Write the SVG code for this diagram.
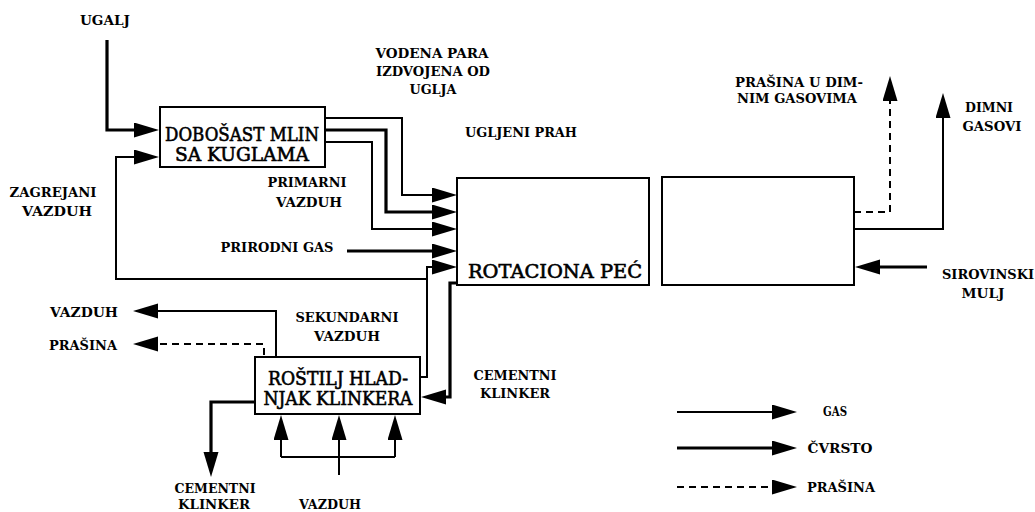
<svg xmlns="http://www.w3.org/2000/svg" width="1035" height="512" viewBox="0 0 1035 512">
<style>
.bg{fill:#fff}
.box{fill:#fff;stroke:#000;stroke-width:2}
.bt{font-family:"DejaVu Serif","Liberation Serif",serif;font-size:18px;fill:#000;stroke:#000;stroke-width:0.6;text-anchor:middle}
.lb{font-family:"DejaVu Serif","Liberation Serif",serif;font-weight:bold;font-size:13px;fill:#000;text-anchor:middle}
.gas{fill:none;stroke:#000;stroke-width:2}
.sol{fill:none;stroke:#000;stroke-width:3.2}
.dust{fill:none;stroke:#000;stroke-width:2;stroke-dasharray:7 5}
</style>
<defs>
<marker id="ah" markerUnits="userSpaceOnUse" markerWidth="28" markerHeight="18" refX="1" refY="7.5" orient="auto" viewBox="0 0 28 18">
<path d="M0,0 L25,7.5 L0,15 z" fill="#000"/>
</marker>
</defs>
<rect class="bg" x="0" y="0" width="1035" height="512"/>

<g id="connectors">
<path class="sol" d="M107,40 V130 H135" marker-end="url(#ah)"/>
<path class="gas" d="M427,279 H116 V157 H135" marker-end="url(#ah)"/>
<path class="gas" d="M325,118 H402 V195 H433" marker-end="url(#ah)"/>
<path class="sol" d="M325,130 H386 V212 H433" marker-end="url(#ah)"/>
<path class="gas" d="M325,142 H372 V229 H433" marker-end="url(#ah)"/>
<path class="sol" d="M347,251 H433" marker-end="url(#ah)"/>
<path class="gas" d="M420,377 H427 V267 H433" marker-end="url(#ah)"/>
<path class="sol" d="M458,283 H450 V397 H445" marker-end="url(#ah)"/>
<path class="dust" d="M854,212 H890 V100" marker-end="url(#ah)"/>
<path class="gas" d="M854,229 H943 V117" marker-end="url(#ah)"/>
<path class="sol" d="M927,267 H879" marker-end="url(#ah)"/>
<path class="gas" d="M276,357 V311 H157" marker-end="url(#ah)"/>
<path class="dust" d="M264,355 V344 H157" marker-end="url(#ah)"/>
<path class="sol" d="M255,402 H211 V453" marker-end="url(#ah)"/>
<path class="gas" d="M339,475 V439" marker-end="url(#ah)"/>
<path class="gas" d="M281,457 V439" marker-end="url(#ah)"/>
<path class="gas" d="M395,457 V439" marker-end="url(#ah)"/>
<path class="gas" d="M281,457 H395"/>
</g>

<g id="mill">
<rect class="box" x="160" y="107" width="165" height="60"/>
<text class="bt" x="242" y="141" textLength="154" lengthAdjust="spacingAndGlyphs">DOBOŠAST MLIN</text>
<text class="bt" x="242" y="161" textLength="134" lengthAdjust="spacingAndGlyphs">SA KUGLAMA</text>
</g>
<g id="kiln">
<rect class="box" x="457" y="178" width="192" height="107"/>
<text class="bt" x="555" y="278" font-size="19" textLength="174" lengthAdjust="spacingAndGlyphs">ROTACIONA PEĆ</text>
</g>
<g id="preheater">
<rect class="box" x="662" y="177" width="192" height="108"/>
</g>
<g id="cooler">
<rect class="box" x="255" y="357" width="165" height="57"/>
<text class="bt" x="338" y="385" textLength="140" lengthAdjust="spacingAndGlyphs">ROŠTILJ HLAD-</text>
<text class="bt" x="338" y="405" textLength="149" lengthAdjust="spacingAndGlyphs">NJAK KLINKERA</text>
</g>

<g id="labels">
<text class="lb" x="105" y="25" textLength="50" lengthAdjust="spacingAndGlyphs">UGALJ</text>
<text class="lb" x="432" y="58" textLength="113" lengthAdjust="spacingAndGlyphs">VODENA PARA</text>
<text class="lb" x="433" y="76" textLength="114" lengthAdjust="spacingAndGlyphs">IZDVOJENA OD</text>
<text class="lb" x="433" y="94" textLength="47" lengthAdjust="spacingAndGlyphs">UGLJA</text>
<text class="lb" x="521" y="137" textLength="112" lengthAdjust="spacingAndGlyphs">UGLJENI PRAH</text>
<text class="lb" x="799" y="87" textLength="128" lengthAdjust="spacingAndGlyphs">PRAŠINA U DIM-</text>
<text class="lb" x="797" y="103" textLength="120" lengthAdjust="spacingAndGlyphs">NIM GASOVIMA</text>
<text class="lb" x="989" y="112" textLength="48" lengthAdjust="spacingAndGlyphs">DIMNI</text>
<text class="lb" x="992" y="131" textLength="59" lengthAdjust="spacingAndGlyphs">GASOVI</text>
<text class="lb" x="53" y="197" textLength="87" lengthAdjust="spacingAndGlyphs">ZAGREJANI</text>
<text class="lb" x="57" y="216" textLength="70" lengthAdjust="spacingAndGlyphs">VAZDUH</text>
<text class="lb" x="307" y="187" textLength="79" lengthAdjust="spacingAndGlyphs">PRIMARNI</text>
<text class="lb" x="309" y="207" textLength="66" lengthAdjust="spacingAndGlyphs">VAZDUH</text>
<text class="lb" x="277" y="252" textLength="113" lengthAdjust="spacingAndGlyphs">PRIRODNI GAS</text>
<text class="lb" x="988" y="279" textLength="92" lengthAdjust="spacingAndGlyphs">SIROVINSKI</text>
<text class="lb" x="983" y="298" textLength="43" lengthAdjust="spacingAndGlyphs">MULJ</text>
<text class="lb" x="84" y="317" textLength="68" lengthAdjust="spacingAndGlyphs">VAZDUH</text>
<text class="lb" x="83" y="350" textLength="68" lengthAdjust="spacingAndGlyphs">PRAŠINA</text>
<text class="lb" x="347" y="322" textLength="103" lengthAdjust="spacingAndGlyphs">SEKUNDARNI</text>
<text class="lb" x="347" y="341" textLength="66" lengthAdjust="spacingAndGlyphs">VAZDUH</text>
<text class="lb" x="515" y="380" textLength="83" lengthAdjust="spacingAndGlyphs">CEMENTNI</text>
<text class="lb" x="515" y="398" textLength="70" lengthAdjust="spacingAndGlyphs">KLINKER</text>
<text class="lb" x="215" y="493" textLength="81" lengthAdjust="spacingAndGlyphs">CEMENTNI</text>
<text class="lb" x="214" y="509" textLength="72" lengthAdjust="spacingAndGlyphs">KLINKER</text>
<text class="lb" x="330" y="509" textLength="62" lengthAdjust="spacingAndGlyphs">VAZDUH</text>
</g>

<g id="legend">
<path class="gas" d="M677,412 H773" marker-end="url(#ah)"/>
<path class="sol" d="M677,448 H773" marker-end="url(#ah)"/>
<path class="dust" d="M677,487 H773" marker-end="url(#ah)"/>
<text class="lb" x="835" y="416" textLength="24" lengthAdjust="spacingAndGlyphs">GAS</text>
<text class="lb" x="840" y="453" textLength="65" lengthAdjust="spacingAndGlyphs">ČVRSTO</text>
<text class="lb" x="841" y="492" textLength="68" lengthAdjust="spacingAndGlyphs">PRAŠINA</text>
</g>
</svg>
